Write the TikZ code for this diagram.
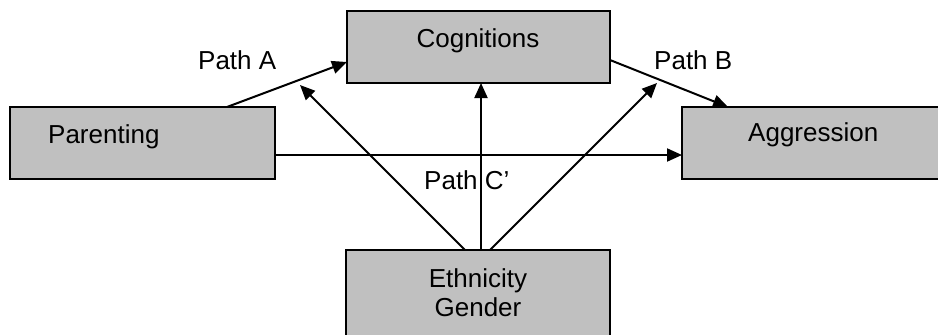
\documentclass[tikz,border=0pt]{standalone}
\usepackage{fontspec}
\setmainfont{Liberation Sans}
\usetikzlibrary{arrows.meta}
\tikzset{
  box/.style={draw=black, line width=2pt, fill=boxgray, rectangle, anchor=north west, inner sep=0pt, outer sep=0pt},
  txt/.style={inner sep=0pt, font=\fontsize{26}{30}\selectfont},
  arr/.style={line width=2pt, -{Triangle[length=15pt,width=13pt]}},
}
\definecolor{boxgray}{HTML}{C0C0C0}
\begin{document}
\begin{tikzpicture}[x=1pt,y=-1pt]
\useasboundingbox (0,0) rectangle (938,335);
\clip (0,0) rectangle (938,335);
% boxes
\node[box, minimum width=263pt, minimum height=72pt] (cog) at (347,11) {};
\node[box, minimum width=265pt, minimum height=72pt] (par) at (10,107) {};
\node[box, minimum width=280pt, minimum height=72pt] (agg) at (682,107) {};
\node[box, minimum width=264pt, minimum height=110pt] (eth) at (346,250) {};
% box texts
\node[txt, anchor=base] (cogt) at (478,47) {Cognitions};
\node[txt, anchor=base west] (part) at (48,143) {Parenting};
\node[txt, anchor=base west] (aggt) at (748,141) {Aggression};
\node[txt, anchor=base] (etht1) at (478,287) {Ethnicity};
\node[txt, anchor=base] (etht2) at (478,316) {Gender};
% free ends
\coordinate (tl) at (300,85);
\coordinate (tr) at (657,83);
% connectors
\draw[arr] ([xshift=217pt]par.north west) -- ([yshift=-51pt]cog.north west);
\draw[arr] ([yshift=-49pt]cog.north east) -- ([xshift=46pt]agg.north west);
\draw[arr] ([yshift=-48pt]par.north east) -- ([yshift=-48pt]agg.north west);
\draw[arr] ([xshift=119pt]eth.north west) -- (tl);
\draw[arr] ([xshift=135pt]eth.north west) -- ([xshift=134pt]cog.south west);
\draw[arr] ([xshift=144pt]eth.north west) -- (tr);
% path labels
\node[txt, anchor=base west] (pa) at (198,69) {Path A};
\node[txt, anchor=base west] (pb) at (654,69) {Path B};
\node[txt, anchor=base west] (pc) at (424,189) {Path C’};
\end{tikzpicture}
\end{document}
